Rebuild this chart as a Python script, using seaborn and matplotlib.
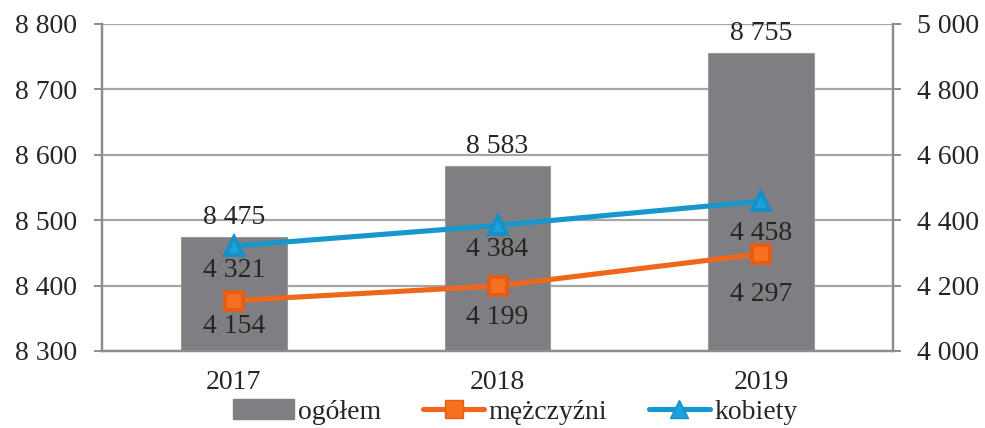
import matplotlib
matplotlib.use("Agg")
import matplotlib.pyplot as plt
import seaborn as sns
from matplotlib.patches import Patch
from matplotlib.lines import Line2D

# dane
years = ["2017", "2018", "2019"]
ogolem = [8475, 8583, 8755]
mezczyzni = [4154, 4199, 4297]
kobiety = [4321, 4384, 4458]

# przesunięcia etykiet (w punktach, pod znacznikiem)
off_m = [-19, -23, -29]
off_k = [-18, -17, -23]

GREY = "#7f7f83"
ORANGE = "#ef671c"
BLUE = "#1897cc"
GRID = "#a6a6a6"


def fmt(v):
    return f"{v:,}".replace(",", " ")


sns.set_style("white")
plt.rcParams["font.family"] = ["Liberation Serif", "DejaVu Serif"]
plt.rcParams["font.size"] = 20

fig, ax = plt.subplots(figsize=(9.85, 4.28), dpi=100)
fig.subplots_adjust(left=0.1036, right=0.9066, top=0.944, bottom=0.18)

sns.barplot(x=years, y=ogolem, ax=ax, color=GREY, width=0.4,
            edgecolor="#9a9a9a", linewidth=0.8, saturation=1)
ax.set_ylim(8300, 8800)
ax.set_yticks(range(8300, 8801, 100))
ax.set_yticklabels([fmt(v) for v in range(8300, 8801, 100)])
ax.set_axisbelow(True)
ax.yaxis.grid(True, color=GRID, linewidth=1.6)
for i, v in enumerate(ogolem):
    ax.annotate(fmt(v), (i, v), xytext=(0, 5), textcoords="offset points",
                ha="center", va="bottom")

ax2 = ax.twinx()
sns.pointplot(x=years, y=mezczyzni, ax=ax2, color=ORANGE, markers="s",
              markersize=13, linewidth=3.7, errorbar=None,
              markerfacecolor="#f7701f", markeredgecolor="#e35d17")
sns.pointplot(x=years, y=kobiety, ax=ax2, color=BLUE, markers="^",
              markersize=13, linewidth=3.7, errorbar=None,
              markerfacecolor="#1ba1dc", markeredgecolor="#1590c4")
ax2.set_ylim(4000, 5000)
ax2.set_yticks(range(4000, 5001, 200))
ax2.set_yticklabels([fmt(v) for v in range(4000, 5001, 200)])
ax2.set_ylabel("")
for i, v in enumerate(mezczyzni):
    ax2.annotate(fmt(v), (i, v), xytext=(0, off_m[i]), textcoords="offset points",
                 ha="center", va="center")
for i, v in enumerate(kobiety):
    ax2.annotate(fmt(v), (i, v), xytext=(0, off_k[i]), textcoords="offset points",
                 ha="center", va="center")

for a in (ax, ax2):
    a.set_xlim(-0.5, 2.5)
    for s in a.spines.values():
        s.set_color("#8c8c8c")
        s.set_linewidth(1.6)
    a.spines["top"].set_visible(False)

ax.set_xticks([0, 1, 2])
ax.set_xticklabels(years)
ax.set_xticks([-0.5, 0.5, 1.5, 2.5], minor=True)
ax.tick_params(axis="x", which="major", length=0, pad=14)
ax.tick_params(axis="x", which="minor", length=6, width=1.4, color="#8c8c8c", direction="out")
ax.tick_params(axis="y", length=6, width=1.4, color="#8c8c8c", direction="out", left=True, pad=12)
ax2.tick_params(axis="y", length=6, width=1.4, color="#8c8c8c", direction="out", right=True, pad=11)
ax.set_xlabel("")

handles = [
    Patch(facecolor=GREY, edgecolor=GREY),
    Line2D([], [], color=ORANGE, linewidth=3.7, marker="s", markersize=13,
           markerfacecolor="#f7701f", markeredgecolor="#e35d17"),
    Line2D([], [], color=BLUE, linewidth=3.7, marker="^", markersize=13,
           markerfacecolor="#1ba1dc", markeredgecolor="#1590c4"),
]
fig.legend(handles, ["ogółem", "mężczyźni", "kobiety"], loc="center",
           bbox_to_anchor=(0.523, 0.037), ncol=3, frameon=False,
           handlelength=2.2, handletextpad=0.15, columnspacing=1.5,
           borderaxespad=0, borderpad=0)

fig.savefig("out.png", dpi=100)
